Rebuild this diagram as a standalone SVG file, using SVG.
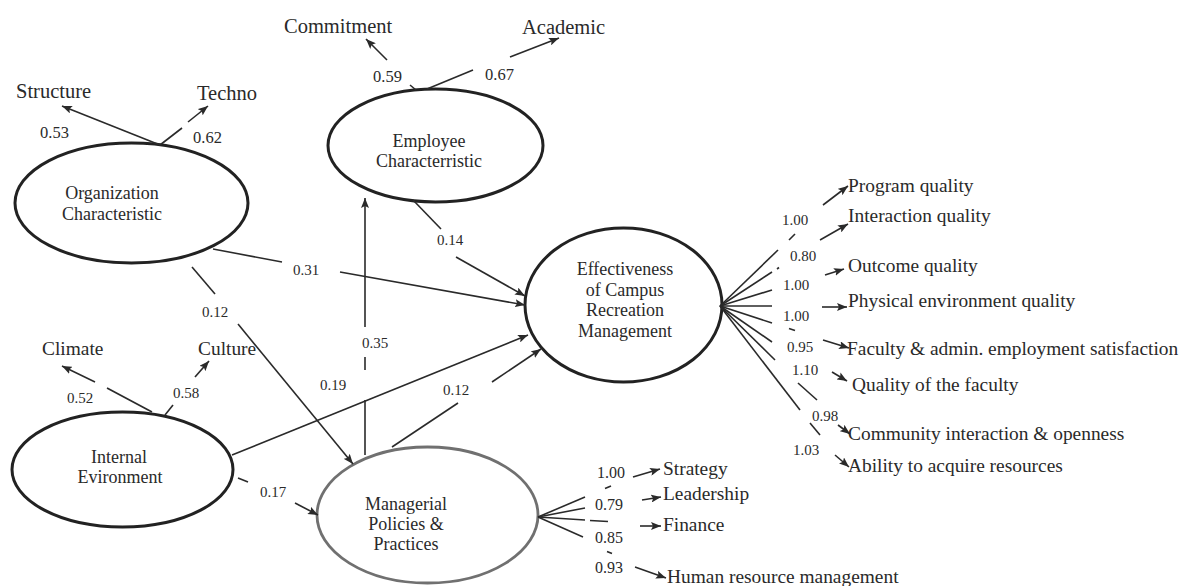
<svg xmlns="http://www.w3.org/2000/svg" width="1182" height="586" viewBox="0 0 1182 586">
<style>
text{font-family:"Liberation Serif","Times New Roman",serif;fill:#2a2a2a}
.node{font-size:18px}
.lab{font-size:20.5px}
.lab2{font-size:19.4px}
.num{font-size:15px}
.numb{font-size:16.5px}
.numm{font-size:16px}
.ell{fill:none;stroke:#222;stroke-width:3}
.ellg{fill:none;stroke:#707070;stroke-width:2.8}
.c line{stroke:#2a2a2a;stroke-width:1.6;fill:none}
.c line.a{marker-end:url(#ah)}
</style>
<defs>
<marker id="ah" viewBox="0 0 10 8" refX="10" refY="4" markerWidth="10" markerHeight="8" markerUnits="userSpaceOnUse" orient="auto">
<path d="M0,0 L10,4 L0,8 L2,4 z" fill="#2a2a2a"/>
</marker>
</defs>
<rect width="1182" height="586" fill="#ffffff"/>

<g id="org">
<ellipse class="ell" cx="131.5" cy="203" rx="116.5" ry="60"/>
<text class="node" x="112" y="199" text-anchor="middle">Organization</text>
<text class="node" x="112" y="220" text-anchor="middle">Characteristic</text>
</g>
<g id="emp">
<ellipse class="ell" cx="435.5" cy="145.5" rx="107.5" ry="56.5"/>
<text class="node" x="429" y="147" text-anchor="middle">Employee</text>
<text class="node" x="429" y="167" text-anchor="middle">Characterristic</text>
</g>
<g id="eff">
<ellipse class="ell" cx="623.5" cy="305" rx="98.5" ry="77" stroke-width="2.6"/>
<text class="node" x="625" y="275" text-anchor="middle">Effectiveness</text>
<text class="node" x="625" y="296" text-anchor="middle">of Campus</text>
<text class="node" x="625" y="316" text-anchor="middle">Recreation</text>
<text class="node" x="625" y="337" text-anchor="middle">Management</text>
</g>
<g id="int">
<ellipse class="ell" cx="122.5" cy="469.5" rx="110.5" ry="57.5"/>
<text class="node" x="119" y="463" text-anchor="middle">Internal</text>
<text class="node" x="120" y="483" text-anchor="middle">Evironment</text>
</g>
<g id="mgr">
<ellipse class="ellg" cx="427.5" cy="515" rx="110.5" ry="68"/>
<text class="node" x="406" y="510" text-anchor="middle">Managerial</text>
<text class="node" x="406" y="530" text-anchor="middle">Policies  &amp;</text>
<text class="node" x="406" y="550" text-anchor="middle">Practices</text>
</g>

<g id="indicators">
<text class="lab" x="16" y="98">Structure</text>
<text class="lab" x="197" y="100">Techno</text>
<text class="lab" x="284" y="33">Commitment</text>
<text class="lab" x="522" y="34">Academic</text>
<text class="lab2" x="42" y="355">Climate</text>
<text class="lab2" x="198" y="355">Culture</text>
<text class="lab2" x="848" y="192">Program quality</text>
<text class="lab2" x="848" y="222">Interaction quality</text>
<text class="lab2" x="848" y="272">Outcome quality</text>
<text class="lab2" x="848" y="307">Physical environment quality</text>
<text class="lab2" x="847" y="355">Faculty &amp; admin. employment satisfaction</text>
<text class="lab2" x="852" y="391">Quality of the faculty</text>
<text class="lab2" x="848" y="440">Community interaction &amp; openness</text>
<text class="lab2" x="848" y="472">Ability to acquire resources</text>
<text class="lab2" x="663" y="475">Strategy</text>
<text class="lab2" x="663" y="500">Leadership</text>
<text class="lab2" x="663" y="531">Finance</text>
<text class="lab2" x="667" y="583">Human resource management</text>
</g>

<g id="connectors" class="c">
<line class="a" x1="160" y1="145" x2="62" y2="106"/>
<line x1="160" y1="145" x2="182" y2="128"/>
<line class="a" x1="188" y1="122" x2="208" y2="106"/>
<line x1="416" y1="90" x2="410" y2="85"/>
<line class="a" x1="387" y1="60" x2="366" y2="39"/>
<line x1="427" y1="89" x2="473" y2="70"/>
<line class="a" x1="510" y1="57" x2="559" y2="38"/>
<line x1="152" y1="412" x2="107" y2="388"/>
<line class="a" x1="95" y1="382" x2="62" y2="366"/>
<line x1="165" y1="415" x2="173" y2="405"/>
<line class="a" x1="195" y1="377" x2="209" y2="361"/>
<line x1="213" y1="249" x2="282" y2="262"/>
<line class="a" x1="340" y1="272" x2="525" y2="305"/>
<line x1="413" y1="200" x2="441" y2="229"/>
<line class="a" x1="456" y1="257" x2="525" y2="296"/>
<line x1="192" y1="267" x2="215" y2="294"/>
<line class="a" x1="238" y1="324" x2="353" y2="464"/>
<line x1="365" y1="455" x2="365" y2="400"/>
<line x1="365" y1="370" x2="365" y2="357"/>
<line class="a" x1="365" y1="327" x2="365" y2="198"/>
<line class="a" x1="232" y1="455" x2="528" y2="335"/>
<line x1="392" y1="447" x2="458" y2="403"/>
<line class="a" x1="492" y1="382" x2="541" y2="349"/>
<line x1="238" y1="478" x2="248" y2="482"/>
<line class="a" x1="295" y1="503" x2="318" y2="515"/>
<line x1="720" y1="306" x2="778" y2="250"/>
<line x1="789" y1="240" x2="795" y2="234"/>
<line class="a" x1="823" y1="205" x2="848" y2="186"/>
<line x1="720" y1="306" x2="772" y2="272"/>
<line x1="777" y1="269" x2="779" y2="267.5"/>
<line class="a" x1="820" y1="240" x2="848" y2="224"/>
<line x1="720" y1="306" x2="772" y2="290"/>
<line class="a" x1="825" y1="275" x2="844" y2="269"/>
<line x1="720" y1="306" x2="772" y2="306"/>
<line class="a" x1="822" y1="307" x2="847" y2="307"/>
<line x1="720" y1="306" x2="772" y2="323"/>
<line x1="789" y1="328.5" x2="795" y2="330.5"/>
<line class="a" x1="823" y1="340" x2="849" y2="348"/>
<line x1="720" y1="306" x2="772" y2="342"/>
<line class="a" x1="832" y1="372" x2="847" y2="381"/>
<line x1="720" y1="306" x2="775" y2="360"/>
<line x1="798" y1="383" x2="817" y2="400"/>
<line class="a" x1="838" y1="425" x2="850" y2="434"/>
<line x1="720" y1="306" x2="800" y2="410"/>
<line x1="810" y1="423" x2="820" y2="435"/>
<line class="a" x1="835" y1="455" x2="849" y2="467"/>
<line x1="538" y1="517" x2="585" y2="497"/>
<line x1="605" y1="488.5" x2="611" y2="486"/>
<line class="a" x1="633" y1="477" x2="660" y2="469"/>
<line x1="538" y1="517" x2="585" y2="508"/>
<line class="a" x1="642" y1="500" x2="661" y2="497"/>
<line x1="538" y1="517" x2="585" y2="520"/>
<line x1="590" y1="520.5" x2="608" y2="521.5"/>
<line class="a" x1="640" y1="526" x2="661" y2="526"/>
<line x1="538" y1="517" x2="583" y2="537"/>
<line x1="607" y1="551.5" x2="612" y2="553.5"/>
<line class="a" x1="635" y1="567" x2="666" y2="578"/>
</g>

<g id="coefficients">
<text class="numb" x="40" y="138">0.53</text>
<text class="numb" x="193" y="143">0.62</text>
<text class="numb" x="373" y="82">0.59</text>
<text class="numb" x="485" y="80">0.67</text>
<text class="num" x="293" y="275">0.31</text>
<text class="num" x="437" y="245">0.14</text>
<text class="num" x="202" y="317">0.12</text>
<text class="num" x="362" y="348">0.35</text>
<text class="num" x="320" y="390">0.19</text>
<text class="num" x="443" y="395">0.12</text>
<text class="num" x="260" y="497">0.17</text>
<text class="num" x="67" y="403">0.52</text>
<text class="num" x="173" y="398">0.58</text>
<text class="num" x="782" y="225">1.00</text>
<text class="num" x="790" y="261">0.80</text>
<text class="num" x="783" y="290">1.00</text>
<text class="num" x="783" y="321">1.00</text>
<text class="num" x="787" y="352">0.95</text>
<text class="num" x="792" y="375">1.10</text>
<text class="num" x="812" y="421">0.98</text>
<text class="num" x="793" y="455">1.03</text>
<text class="numm" x="597" y="478">1.00</text>
<text class="numm" x="595" y="510">0.79</text>
<text class="numm" x="595" y="543">0.85</text>
<text class="numm" x="595" y="573">0.93</text>
</g>
</svg>
